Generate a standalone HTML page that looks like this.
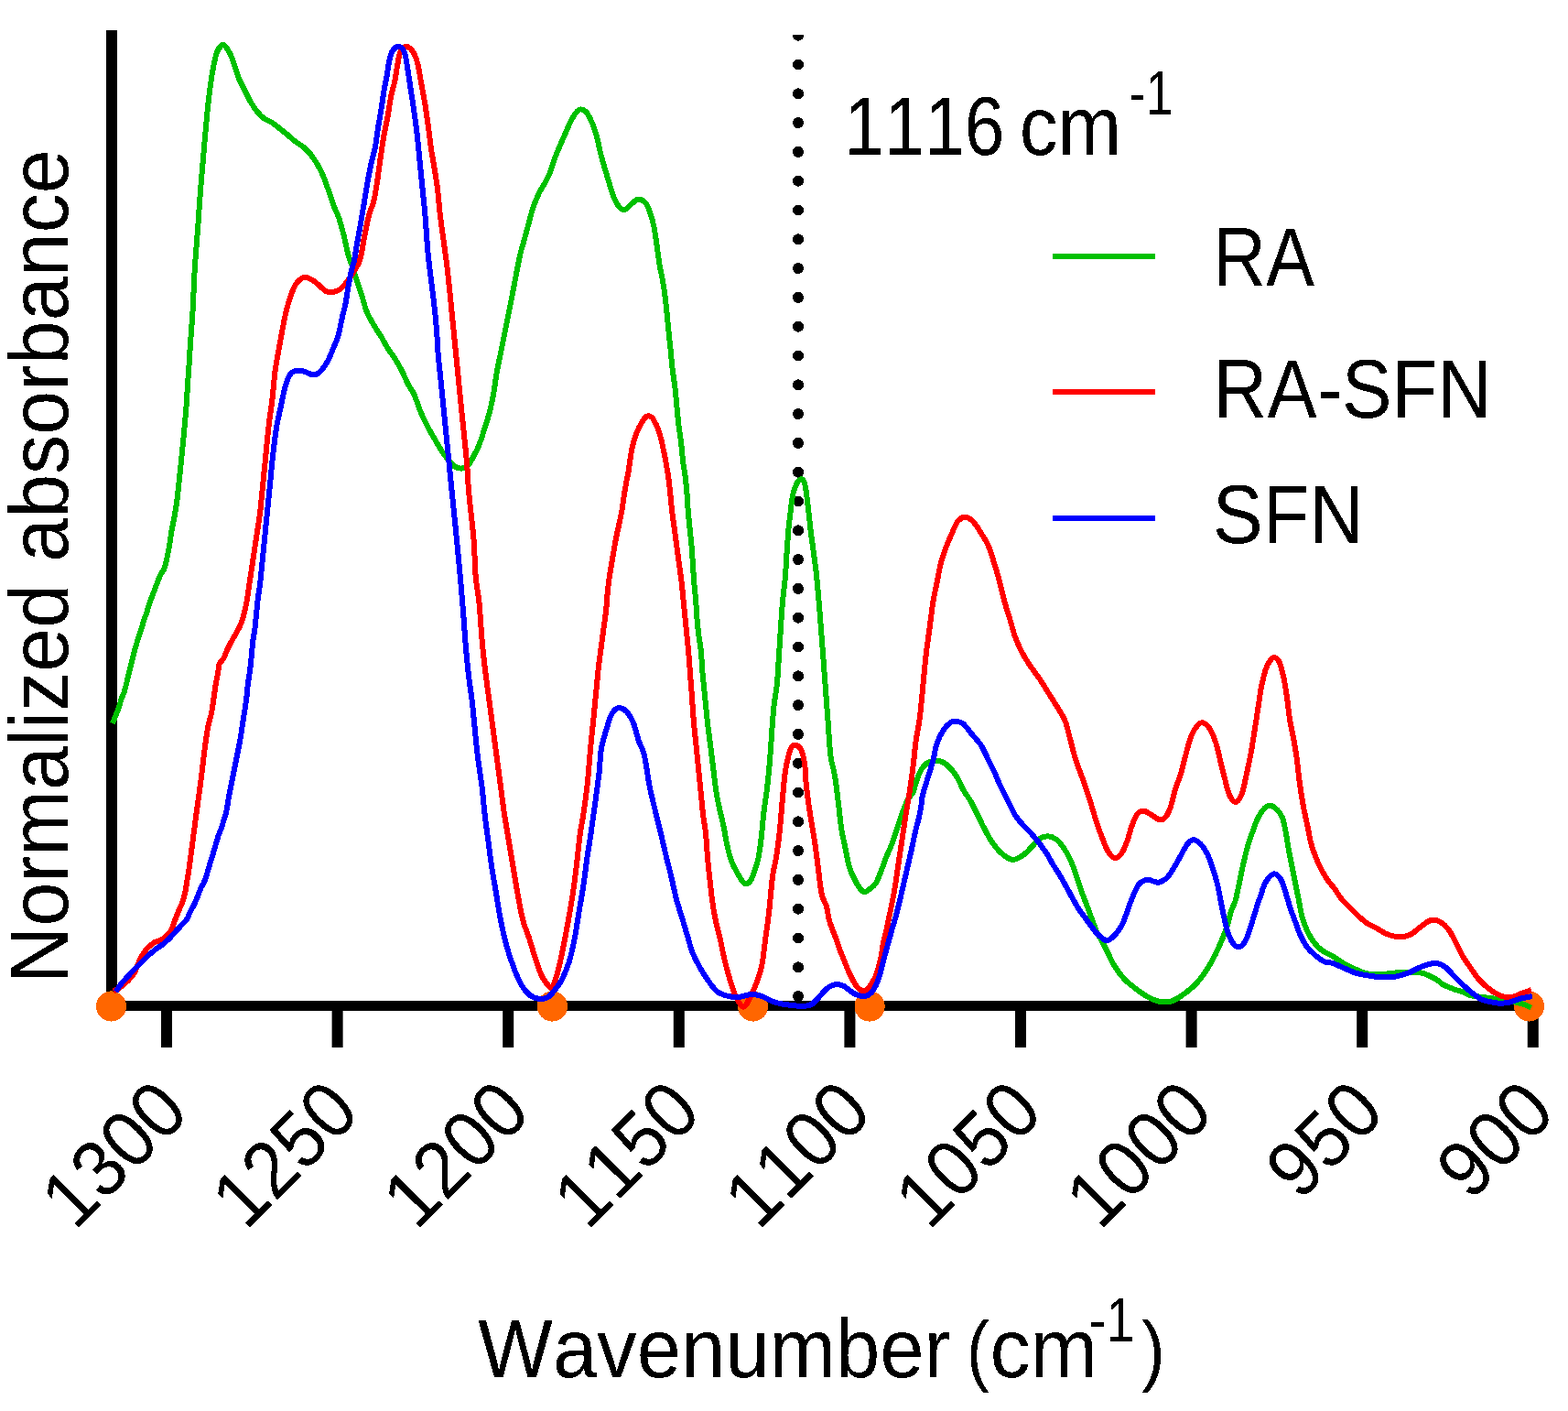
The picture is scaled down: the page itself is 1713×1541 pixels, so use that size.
<!DOCTYPE html>
<html><head><meta charset="utf-8"><title>FTIR spectra</title>
<style>html,body{margin:0;padding:0;background:#fff;}svg{display:block;}text{font-kerning:none;font-feature-settings:"kern" 0;}</style>
</head><body>
<svg xmlns="http://www.w3.org/2000/svg" width="1713" height="1541" viewBox="0 0 1713 1541"><defs><filter id="bin" x="0" y="0" width="1713" height="1541" filterUnits="userSpaceOnUse"><feComponentTransfer><feFuncA type="discrete" tableValues="0 1"/></feComponentTransfer></filter></defs>
<rect x="0" y="0" width="1713" height="1541" fill="#fff"/>
<rect x="116" y="33" width="12" height="1071" fill="#000"/>
<rect x="116" y="1093" width="1564" height="11" fill="#000"/>
<rect x="176.0" y="1093" width="12" height="51" fill="#000"/>
<rect x="362.6" y="1093" width="12" height="51" fill="#000"/>
<rect x="549.2" y="1093" width="12" height="51" fill="#000"/>
<rect x="735.8" y="1093" width="12" height="51" fill="#000"/>
<rect x="922.4" y="1093" width="12" height="51" fill="#000"/>
<rect x="1109.0" y="1093" width="12" height="51" fill="#000"/>
<rect x="1295.6" y="1093" width="12" height="51" fill="#000"/>
<rect x="1482.2" y="1093" width="12" height="51" fill="#000"/>
<rect x="1668.8" y="1093" width="12" height="51" fill="#000"/>
<g filter="url(#bin)"><g font-family="'Liberation Sans', Arial, Helvetica, sans-serif" font-size="87.0" fill="#000"><text x="0" y="0" text-anchor="end" transform="translate(209.0,1217.6) rotate(-45) scale(0.930,1)">1300</text><text x="0" y="0" text-anchor="end" transform="translate(395.6,1217.6) rotate(-45) scale(0.930,1)">1250</text><text x="0" y="0" text-anchor="end" transform="translate(582.2,1217.6) rotate(-45) scale(0.930,1)">1200</text><text x="0" y="0" text-anchor="end" transform="translate(768.8,1217.6) rotate(-45) scale(0.930,1)">1150</text><text x="0" y="0" text-anchor="end" transform="translate(955.4,1217.6) rotate(-45) scale(0.930,1)">1100</text><text x="0" y="0" text-anchor="end" transform="translate(1142.0,1217.6) rotate(-45) scale(0.930,1)">1050</text><text x="0" y="0" text-anchor="end" transform="translate(1328.6,1217.6) rotate(-45) scale(0.930,1)">1000</text><text x="0" y="0" text-anchor="end" transform="translate(1515.2,1217.6) rotate(-45) scale(0.930,1)">950</text><text x="0" y="0" text-anchor="end" transform="translate(1701.8,1217.6) rotate(-45) scale(0.930,1)">900</text></g></g>
<circle cx="121.5" cy="1099" r="16.6" fill="#FF6600" shape-rendering="crispEdges"/>
<circle cx="603.4" cy="1099" r="16.6" fill="#FF6600" shape-rendering="crispEdges"/>
<circle cx="822.6" cy="1099" r="16.6" fill="#FF6600" shape-rendering="crispEdges"/>
<circle cx="950.1" cy="1099" r="16.6" fill="#FF6600" shape-rendering="crispEdges"/>
<circle cx="1670.5" cy="1099" r="16.6" fill="#FF6600" shape-rendering="crispEdges"/>
<clipPath id="dc"><rect x="850" y="38" width="50" height="1070"/></clipPath>
<line x1="872" y1="38.7" x2="872" y2="1090" stroke="#000" stroke-width="12" stroke-linecap="round" stroke-dasharray="0 31.8" clip-path="url(#dc)" shape-rendering="crispEdges"/>
<path d="M123.0,790.0 C124.0,787.5 127.3,779.6 129.0,775.0 C130.7,770.4 131.7,765.9 132.9,762.5 C134.1,759.1 134.8,758.6 136.0,754.7 C137.2,750.8 138.6,744.3 139.9,739.1 C141.2,733.9 142.5,728.8 143.8,723.6 C145.1,718.4 146.4,712.7 147.7,708.0 C149.0,703.3 150.3,699.6 151.6,695.5 C152.9,691.4 154.1,687.5 155.5,683.1 C156.9,678.7 158.6,673.7 160.2,669.0 C161.8,664.3 163.2,659.4 164.8,655.0 C166.4,650.6 167.8,647.0 169.5,642.6 C171.2,638.2 173.3,632.1 175.0,628.5 C176.7,624.9 178.4,623.6 179.6,620.7 C180.8,617.9 181.1,615.5 182.0,611.4 C182.9,607.2 184.2,601.0 185.1,595.8 C186.0,590.6 186.6,585.1 187.4,580.2 C188.2,575.3 189.2,571.6 190.2,566.2 C191.2,560.8 192.2,555.1 193.2,547.8 C194.2,540.5 195.1,530.9 196.0,522.5 C196.9,514.1 197.8,505.6 198.6,497.2 C199.4,488.8 200.3,480.2 201.1,471.8 C201.9,463.4 202.7,454.9 203.3,446.5 C204.0,438.1 204.4,429.6 205.0,421.2 C205.6,412.8 206.1,404.3 206.7,395.9 C207.2,387.5 207.7,379.0 208.3,370.6 C208.9,362.2 209.7,352.4 210.2,345.3 C210.7,338.2 210.9,334.9 211.2,327.9 C211.5,320.9 211.7,312.3 212.2,303.5 C212.7,294.7 213.4,284.6 214.1,275.2 C214.8,265.8 215.6,256.4 216.3,247.0 C217.0,237.6 217.5,228.2 218.2,218.8 C218.9,209.4 219.7,199.9 220.5,190.5 C221.3,181.1 222.1,171.7 222.9,162.3 C223.7,152.9 224.6,142.6 225.4,134.1 C226.2,125.6 226.8,119.0 227.6,111.5 C228.4,104.0 229.6,95.5 230.5,88.9 C231.4,82.3 232.2,77.3 233.3,72.0 C234.4,66.7 235.7,60.4 237.0,56.9 C238.3,53.4 239.7,52.0 241.0,50.8 C242.3,49.5 243.2,47.9 245.0,49.4 C246.8,50.9 249.6,55.2 251.7,59.5 C253.8,63.8 255.9,70.5 257.5,75.0 C259.1,79.5 259.8,82.8 261.4,86.7 C263.0,90.6 265.4,94.5 267.3,98.4 C269.2,102.3 270.8,106.2 273.1,110.1 C275.4,114.0 278.3,118.6 280.9,121.8 C283.5,125.0 286.1,127.6 288.7,129.5 C291.3,131.4 293.9,131.8 296.5,133.4 C299.1,135.0 301.3,137.0 304.2,139.3 C307.1,141.6 311.1,144.7 314.0,147.1 C316.9,149.5 318.9,151.6 321.8,153.9 C324.7,156.2 328.6,158.3 331.5,160.7 C334.4,163.1 336.7,165.2 339.3,168.5 C341.9,171.8 344.8,176.3 347.1,180.2 C349.4,184.1 351.0,187.3 352.9,191.8 C354.8,196.3 356.8,201.9 358.7,207.4 C360.6,212.9 362.7,219.7 364.6,224.9 C366.6,230.1 368.4,232.8 370.4,238.6 C372.3,244.4 374.7,253.5 376.3,260.0 C377.9,266.5 378.8,272.3 380.2,277.5 C381.6,282.7 383.4,286.2 385.0,291.1 C386.6,296.0 388.1,301.2 389.9,306.7 C391.7,312.2 393.9,318.6 395.7,324.2 C397.5,329.8 398.4,334.9 400.5,340.0 C402.6,345.1 405.4,350.0 408.0,354.5 C410.6,359.0 413.3,362.6 416.0,367.0 C418.7,371.4 421.3,376.8 424.0,381.0 C426.7,385.2 429.4,388.3 432.0,392.5 C434.6,396.7 437.2,401.4 439.5,406.0 C441.8,410.6 443.8,415.8 446.0,420.0 C448.2,424.2 450.2,425.8 452.5,431.0 C454.8,436.2 457.4,444.9 460.0,451.0 C462.6,457.1 465.4,462.6 468.0,467.5 C470.6,472.4 473.1,476.3 475.5,480.5 C477.9,484.7 480.2,488.9 482.5,492.5 C484.8,496.1 487.2,499.2 489.5,502.0 C491.8,504.8 493.7,507.4 496.1,509.0 C498.5,510.6 501.3,511.8 503.9,511.6 C506.5,511.4 509.4,510.1 511.7,507.8 C514.0,505.5 515.6,501.6 517.5,498.0 C519.4,494.4 521.3,491.2 523.3,486.3 C525.2,481.4 527.2,475.0 529.2,468.8 C531.2,462.6 533.4,455.6 535.0,449.4 C536.6,443.2 537.6,438.9 538.9,431.8 C540.2,424.7 541.5,413.9 542.8,406.5 C544.1,399.1 545.4,393.6 546.7,387.1 C548.0,380.6 549.3,374.1 550.6,367.6 C551.9,361.1 553.2,354.6 554.5,348.1 C555.8,341.6 556.9,336.3 558.4,328.7 C559.9,321.1 561.8,310.8 563.4,302.5 C565.0,294.2 566.5,285.9 568.0,279.1 C569.5,272.4 571.1,267.7 572.7,262.0 C574.3,256.3 575.8,250.6 577.4,244.9 C579.0,239.2 580.3,233.2 582.1,227.7 C583.9,222.2 586.2,216.5 588.3,212.1 C590.4,207.7 592.4,205.1 594.5,201.2 C596.6,197.3 598.9,193.2 600.7,188.8 C602.5,184.4 603.6,179.7 605.4,174.8 C607.2,169.9 609.6,164.1 611.7,159.2 C613.8,154.3 615.8,149.9 617.9,145.2 C620.0,140.5 622.0,135.1 624.1,131.2 C626.2,127.3 628.5,123.8 630.3,121.8 C632.1,119.8 633.2,119.2 635.0,119.5 C636.8,119.8 639.1,120.7 641.2,123.4 C643.3,126.1 645.7,131.4 647.5,135.8 C649.3,140.2 650.7,144.6 652.1,149.8 C653.5,155.0 654.7,161.8 656.0,167.0 C657.3,172.2 658.5,176.1 659.9,181.0 C661.3,185.9 663.0,191.4 664.6,196.6 C666.2,201.8 667.5,207.4 669.3,212.1 C671.1,216.8 673.4,221.7 675.5,224.6 C677.6,227.5 679.4,229.6 681.7,229.3 C684.0,229.1 686.9,225.1 689.5,223.1 C692.1,221.1 694.7,217.9 697.3,217.6 C699.9,217.3 703.0,219.3 705.1,221.5 C707.2,223.7 708.2,226.4 709.8,230.8 C711.4,235.2 713.2,241.8 714.5,248.0 C715.8,254.2 716.6,261.2 717.6,268.2 C718.6,275.2 719.7,283.9 720.7,290.0 C721.7,296.1 722.8,300.0 723.7,305.0 C724.6,310.0 725.3,314.1 726.1,320.0 C726.9,325.9 727.7,333.6 728.4,340.4 C729.1,347.2 729.7,354.1 730.4,360.9 C731.1,367.7 731.8,374.5 732.5,381.3 C733.2,388.1 733.7,395.0 734.5,401.8 C735.3,408.6 736.5,415.4 737.3,422.2 C738.1,429.0 738.6,435.8 739.3,442.6 C740.0,449.4 740.5,456.3 741.3,463.1 C742.1,469.9 743.3,476.7 744.1,483.5 C744.9,490.3 745.4,497.9 746.1,504.0 C746.9,510.1 747.9,514.1 748.6,520.0 C749.3,525.9 750.0,533.0 750.5,539.5 C751.0,546.0 751.3,552.4 751.8,558.9 C752.3,565.4 753.1,571.9 753.7,578.4 C754.4,584.9 755.2,591.4 755.7,597.9 C756.2,604.4 756.6,610.8 757.0,617.3 C757.4,623.8 757.8,630.3 758.3,636.8 C758.8,643.3 759.7,649.8 760.2,656.3 C760.7,662.8 761.0,669.2 761.5,675.7 C762.0,682.2 762.8,689.5 763.5,695.2 C764.2,700.9 765.0,703.2 765.7,710.0 C766.4,716.8 766.9,727.4 767.6,736.0 C768.4,744.6 769.3,753.2 770.2,761.9 C771.1,770.5 771.8,779.2 772.8,787.9 C773.8,796.5 775.0,805.1 776.1,813.8 C777.2,822.4 778.2,831.1 779.3,839.8 C780.4,848.4 781.4,858.1 782.6,865.7 C783.8,873.3 785.1,878.7 786.5,885.2 C787.9,891.7 789.7,898.3 791.0,904.7 C792.3,911.1 793.0,917.4 794.4,923.4 C795.8,929.4 797.5,936.1 799.3,941.0 C801.1,945.9 803.1,949.0 805.1,952.6 C807.1,956.2 809.4,960.3 811.0,962.4 C812.6,964.5 813.4,965.3 814.9,965.3 C816.4,965.3 818.1,964.8 819.7,962.4 C821.3,960.0 823.1,954.9 824.6,950.7 C826.1,946.5 827.4,942.6 828.5,937.1 C829.6,931.6 830.4,925.7 831.4,917.6 C832.4,909.5 833.2,898.1 834.3,888.4 C835.4,878.7 837.1,868.9 838.2,859.2 C839.3,849.5 840.0,843.9 841.1,830.0 C842.2,816.1 843.7,789.9 845.0,776.0 C846.3,762.1 847.9,756.5 848.9,746.8 C849.9,737.1 850.2,727.3 850.9,717.6 C851.5,707.9 852.1,698.1 852.8,688.4 C853.4,678.7 854.0,668.6 854.8,659.2 C855.6,649.8 856.9,641.2 857.7,632.2 C858.5,623.2 858.9,613.7 859.5,604.9 C860.1,596.1 860.6,587.4 861.3,579.5 C862.0,571.6 863.1,563.3 863.8,557.7 C864.4,552.1 864.7,549.2 865.2,545.9 C865.7,542.6 866.1,540.1 866.8,537.7 C867.4,535.3 868.3,533.2 869.1,531.3 C869.9,529.3 870.5,527.4 871.5,526.0 C872.5,524.6 874.3,523.2 875.4,523.2 C876.5,523.2 877.5,524.5 878.3,526.0 C879.1,527.5 879.5,529.7 880.0,532.2 C880.5,534.8 880.8,537.8 881.3,541.3 C881.8,544.8 882.2,549.3 882.7,553.1 C883.2,556.9 883.5,559.9 884.0,564.0 C884.5,568.1 884.9,573.2 885.4,577.7 C885.9,582.2 886.6,586.8 887.2,591.3 C887.8,595.8 888.4,600.4 889.0,604.9 C889.6,609.4 890.3,614.0 890.9,618.5 C891.5,623.0 891.6,623.8 892.4,632.2 C893.2,640.6 894.6,656.3 895.6,668.9 C896.6,681.5 897.6,694.9 898.6,707.9 C899.6,720.9 900.5,733.8 901.5,746.8 C902.5,759.8 903.4,772.7 904.4,785.7 C905.4,798.7 906.3,815.7 907.3,824.7 C908.3,833.8 909.5,835.0 910.5,840.0 C911.5,845.0 912.3,848.5 913.2,855.0 C914.1,861.5 915.1,870.5 916.1,878.7 C917.1,886.9 917.9,896.5 919.0,904.0 C920.1,911.5 921.4,916.3 922.9,923.4 C924.4,930.5 926.0,940.6 927.8,946.8 C929.6,953.0 931.7,956.5 933.6,960.4 C935.5,964.3 937.6,967.9 939.4,970.2 C941.2,972.5 942.3,974.1 944.3,974.1 C946.2,974.1 949.0,971.8 951.1,970.2 C953.2,968.6 955.0,967.5 957.0,964.3 C959.0,961.0 960.9,955.6 962.8,950.7 C964.7,945.8 966.6,940.0 968.6,935.1 C970.6,930.2 972.5,926.7 974.5,921.5 C976.5,916.3 978.3,909.8 980.3,904.0 C982.2,898.2 984.2,891.7 986.2,886.5 C988.2,881.3 990.1,876.4 992.0,872.8 C993.9,869.2 996.5,867.6 997.8,865.0 C999.1,862.4 998.7,861.2 1000.0,857.3 C1001.3,853.4 1003.5,845.8 1005.8,841.7 C1008.1,837.6 1010.4,834.7 1013.6,832.9 C1016.9,831.1 1021.7,830.5 1025.3,831.0 C1028.9,831.5 1031.8,833.0 1035.0,835.8 C1038.2,838.5 1041.9,843.0 1044.8,847.5 C1047.7,852.0 1050.0,858.6 1052.6,863.1 C1055.2,867.6 1057.7,870.3 1060.3,874.8 C1062.9,879.3 1065.5,885.1 1068.1,890.3 C1070.7,895.5 1073.3,901.0 1075.9,905.9 C1078.5,910.8 1080.8,915.3 1083.7,919.5 C1086.6,923.7 1089.7,928.0 1093.4,931.2 C1097.1,934.5 1101.9,938.7 1106.1,939.0 C1110.3,939.3 1115.0,935.8 1118.7,933.2 C1122.4,930.6 1125.6,926.3 1128.5,923.4 C1131.4,920.5 1133.5,917.4 1136.3,915.7 C1139.0,914.0 1142.1,913.1 1145.0,913.3 C1147.9,913.4 1151.0,914.6 1153.8,916.6 C1156.6,918.6 1159.0,921.7 1161.6,925.4 C1164.2,929.1 1167.1,934.1 1169.4,939.0 C1171.7,943.9 1173.3,949.1 1175.2,954.6 C1177.1,960.1 1179.0,966.6 1181.0,972.1 C1183.0,977.6 1185.0,982.5 1186.9,987.7 C1188.9,992.9 1190.8,998.1 1192.7,1003.3 C1194.7,1008.5 1196.6,1014.5 1198.6,1018.8 C1200.6,1023.1 1202.4,1025.1 1204.5,1029.0 C1206.6,1032.9 1208.9,1037.8 1211.0,1042.0 C1213.1,1046.2 1214.4,1049.9 1217.2,1054.4 C1220.0,1058.9 1224.1,1064.8 1228.1,1069.0 C1232.0,1073.2 1237.0,1076.8 1240.9,1079.9 C1244.9,1083.0 1248.8,1085.6 1251.8,1087.5 C1254.8,1089.4 1256.6,1090.2 1259.0,1091.2 C1261.4,1092.2 1263.7,1093.1 1266.0,1093.6 C1268.3,1094.1 1270.7,1094.4 1273.0,1094.4 C1275.3,1094.4 1277.5,1094.2 1280.0,1093.4 C1282.5,1092.6 1284.6,1091.5 1288.1,1089.3 C1291.6,1087.0 1297.2,1083.0 1300.8,1079.9 C1304.4,1076.8 1306.9,1074.4 1309.9,1070.8 C1312.9,1067.2 1316.0,1062.9 1319.0,1058.1 C1322.0,1053.2 1325.4,1047.2 1328.1,1041.7 C1330.8,1036.2 1333.3,1030.5 1335.4,1025.3 C1337.5,1020.1 1339.2,1015.8 1340.8,1010.8 C1342.4,1005.8 1343.3,1000.0 1344.8,995.5 C1346.3,991.0 1348.1,988.7 1349.6,983.8 C1351.0,978.9 1352.0,973.1 1353.5,966.3 C1355.0,959.5 1356.8,950.0 1358.4,942.9 C1360.0,935.8 1361.8,928.6 1363.3,923.4 C1364.8,918.2 1365.6,916.3 1367.2,911.8 C1368.8,907.3 1370.9,900.8 1373.0,896.2 C1375.1,891.7 1377.4,887.3 1379.8,884.5 C1382.2,881.7 1384.6,879.6 1387.2,879.6 C1389.8,879.6 1393.1,882.3 1395.4,884.5 C1397.7,886.7 1399.3,888.9 1400.8,892.7 C1402.3,896.5 1403.2,901.2 1404.4,907.2 C1405.6,913.2 1406.8,922.3 1408.0,929.0 C1409.2,935.7 1410.5,941.1 1411.7,947.2 C1412.9,953.3 1414.1,959.4 1415.3,965.4 C1416.5,971.4 1417.8,977.5 1419.0,983.5 C1420.2,989.5 1421.1,996.2 1422.6,1001.7 C1424.1,1007.2 1425.9,1011.8 1428.0,1016.3 C1430.1,1020.8 1432.6,1025.4 1435.3,1029.0 C1438.0,1032.6 1441.0,1035.6 1444.4,1038.1 C1447.8,1040.6 1451.9,1041.8 1455.7,1044.1 C1459.5,1046.4 1463.5,1049.6 1467.4,1051.9 C1471.3,1054.2 1474.5,1055.8 1479.1,1057.8 C1483.6,1059.8 1488.9,1062.6 1494.7,1063.6 C1500.5,1064.6 1507.6,1063.9 1514.1,1063.6 C1520.6,1063.3 1527.1,1061.8 1533.6,1061.6 C1540.1,1061.4 1547.3,1061.3 1553.1,1062.6 C1558.9,1063.9 1564.7,1067.3 1568.6,1069.4 C1572.5,1071.5 1573.2,1073.5 1576.4,1075.3 C1579.7,1077.1 1584.2,1078.8 1588.1,1080.2 C1592.0,1081.7 1596.9,1082.9 1599.8,1084.0 C1602.7,1085.1 1602.5,1086.2 1605.7,1087.0 C1609.0,1087.8 1614.4,1088.2 1619.3,1088.9 C1624.2,1089.6 1629.4,1090.1 1634.9,1090.9 C1640.4,1091.7 1647.5,1092.8 1652.4,1093.8 C1657.3,1094.8 1660.7,1095.6 1664.1,1096.7 C1667.5,1097.8 1671.4,1099.9 1672.9,1100.6" fill="none" stroke="#00C000" stroke-width="6" stroke-linejoin="round" stroke-linecap="butt" shape-rendering="crispEdges"/>
<path d="M124.0,1082.5 C125.0,1082.0 127.5,1081.1 129.7,1079.6 C131.8,1078.1 134.7,1075.7 136.9,1073.7 C139.1,1071.8 141.0,1070.0 142.7,1067.9 C144.4,1065.9 146.0,1063.8 147.3,1061.4 C148.6,1059.0 149.3,1056.3 150.5,1053.6 C151.7,1050.9 153.0,1047.8 154.4,1045.2 C155.8,1042.6 157.3,1040.1 158.9,1038.0 C160.5,1035.9 162.4,1034.3 164.1,1032.8 C165.8,1031.3 167.2,1030.0 169.3,1028.9 C171.4,1027.8 174.4,1027.4 176.5,1026.3 C178.6,1025.2 180.0,1023.9 181.6,1022.4 C183.2,1020.9 185.0,1019.1 186.2,1017.3 C187.4,1015.5 187.9,1013.6 188.8,1011.4 C189.7,1009.2 190.5,1006.6 191.4,1004.3 C192.3,1002.0 193.1,1000.0 194.0,997.8 C194.9,995.6 195.7,993.4 196.6,991.3 C197.5,989.2 198.3,988.1 199.3,985.1 C200.3,982.1 201.7,977.4 202.5,973.5 C203.3,969.6 203.8,965.7 204.4,961.8 C205.1,957.9 205.8,954.0 206.4,950.1 C207.0,946.2 207.4,942.3 207.9,938.4 C208.4,934.5 209.0,930.6 209.5,926.7 C210.0,922.8 210.5,918.9 211.0,915.0 C211.5,911.1 212.1,907.3 212.6,903.4 C213.1,899.5 213.6,895.6 214.1,891.7 C214.6,887.8 214.7,887.2 215.7,880.0 C216.7,872.8 218.7,858.5 220.0,848.4 C221.3,838.3 222.3,828.3 223.5,819.2 C224.7,810.1 226.0,800.5 227.3,793.6 C228.6,786.8 230.2,783.3 231.2,778.1 C232.2,772.9 232.7,767.7 233.5,762.5 C234.3,757.3 235.0,751.6 235.8,746.9 C236.6,742.2 237.5,738.1 238.2,734.5 C238.8,730.9 238.7,727.7 239.7,725.1 C240.7,722.5 243.0,721.5 244.4,718.9 C245.8,716.3 246.9,712.6 248.3,709.5 C249.7,706.4 251.3,703.3 253.0,700.2 C254.7,697.1 256.7,693.9 258.4,690.8 C260.1,687.7 261.7,685.1 263.1,681.5 C264.5,677.9 265.8,673.7 267.0,669.0 C268.2,664.3 269.2,658.7 270.1,653.5 C271.0,648.3 271.6,643.1 272.4,637.9 C273.2,632.7 274.0,627.5 274.8,622.3 C275.6,617.1 276.3,611.9 277.1,606.7 C277.9,601.5 278.6,596.4 279.4,591.2 C280.2,586.0 281.0,580.8 281.8,575.6 C282.6,570.4 283.4,565.5 284.1,560.0 C284.8,554.5 284.9,552.1 285.8,542.8 C286.7,533.4 288.4,516.9 289.7,503.9 C291.0,490.9 292.3,476.3 293.6,464.9 C294.9,453.5 296.4,445.4 297.5,435.7 C298.6,426.0 299.3,415.2 300.4,406.5 C301.5,397.8 303.0,390.6 304.3,383.2 C305.6,375.8 306.9,368.6 308.2,361.8 C309.5,355.0 310.6,348.5 312.1,342.3 C313.6,336.1 315.2,330.0 317.0,324.8 C318.8,319.6 320.4,314.7 322.8,311.1 C325.2,307.5 328.7,304.0 331.6,303.0 C334.5,302.0 337.6,303.9 340.3,305.3 C343.1,306.7 345.5,309.0 348.1,311.1 C350.7,313.2 353.3,316.7 355.9,318.0 C358.5,319.3 361.1,319.2 363.7,318.9 C366.3,318.6 368.9,317.9 371.5,316.0 C374.1,314.1 376.7,310.7 379.3,307.3 C381.9,303.9 384.8,299.6 387.1,295.6 C389.5,291.6 391.5,289.6 393.4,283.3 C395.2,277.0 396.6,266.1 398.2,258.0 C399.8,249.9 401.5,240.9 403.1,234.7 C404.7,228.5 406.5,226.8 408.0,221.0 C409.5,215.2 410.6,207.7 411.9,199.6 C413.2,191.5 414.4,181.2 415.7,172.4 C417.0,163.7 418.3,154.6 419.6,147.1 C420.9,139.6 422.2,134.8 423.5,127.6 C424.8,120.4 426.1,110.7 427.4,104.2 C428.7,97.7 430.2,94.2 431.3,88.7 C432.4,83.2 433.2,76.3 434.2,71.1 C435.2,65.9 435.6,60.9 437.2,57.5 C438.8,54.1 441.6,51.0 444.0,51.0 C446.4,51.0 449.7,54.1 451.8,57.5 C453.9,60.9 455.2,65.2 456.6,71.1 C458.1,76.9 459.2,85.4 460.5,92.6 C461.8,99.8 463.1,105.9 464.4,114.0 C465.7,122.1 467.2,133.1 468.3,141.2 C469.4,149.3 469.9,155.0 471.0,162.4 C472.1,169.8 473.8,178.6 474.9,185.7 C476.0,192.8 476.9,197.1 477.9,205.2 C478.9,213.3 479.7,224.7 480.8,234.4 C481.9,244.1 483.4,253.9 484.7,263.6 C486.0,273.3 487.3,281.7 488.6,292.8 C489.9,303.9 491.4,318.9 492.5,330.0 C493.6,341.1 494.4,349.5 495.4,359.2 C496.4,368.9 497.3,378.7 498.3,388.4 C499.3,398.1 500.2,407.9 501.2,417.6 C502.2,427.3 503.1,437.1 504.1,446.8 C505.1,456.5 506.1,466.3 507.1,476.0 C508.1,485.7 509.2,495.5 510.0,505.2 C510.8,514.9 511.1,524.7 511.9,534.4 C512.7,544.1 513.9,553.9 514.9,563.6 C515.9,573.3 517.0,581.7 517.8,592.8 C518.6,603.9 518.7,618.9 519.7,630.0 C520.7,641.1 522.5,647.9 523.6,659.2 C524.7,670.6 525.5,686.8 526.5,698.1 C527.5,709.5 528.4,717.6 529.5,727.3 C530.6,737.0 532.0,746.8 533.3,756.5 C534.6,766.2 535.9,776.0 537.2,785.7 C538.5,795.4 539.8,805.2 541.1,814.9 C542.4,824.6 544.0,836.7 545.0,844.1 C546.0,851.5 546.0,851.8 547.0,859.2 C548.0,866.6 549.4,878.7 550.9,888.4 C552.4,898.1 554.1,907.9 555.7,917.6 C557.3,927.3 559.0,937.1 560.6,946.8 C562.2,956.5 563.7,966.3 565.5,976.0 C567.3,985.7 569.2,997.1 571.3,1005.2 C573.4,1013.3 576.0,1018.2 578.1,1024.7 C580.2,1031.2 581.9,1037.6 584.0,1044.1 C586.1,1050.6 588.7,1058.7 590.8,1063.6 C592.9,1068.5 594.6,1070.7 596.6,1073.3 C598.6,1075.9 600.9,1079.5 602.5,1079.2 C604.1,1078.9 604.8,1075.6 606.3,1071.4 C607.8,1067.2 609.6,1060.7 611.2,1053.9 C612.8,1047.1 614.5,1038.6 616.1,1030.5 C617.7,1022.4 619.3,1014.3 620.9,1005.2 C622.5,996.1 624.3,985.7 625.8,976.0 C627.3,966.3 628.4,957.5 629.7,946.8 C631.0,936.1 632.3,921.5 633.6,911.8 C634.9,902.1 636.2,897.2 637.5,888.4 C638.8,879.6 640.4,867.7 641.4,859.2 C642.4,850.7 642.8,843.5 643.4,837.3 C644.0,831.0 644.2,827.6 644.7,821.7 C645.2,815.9 646.0,808.7 646.6,802.2 C647.2,795.7 648.0,789.3 648.6,782.8 C649.2,776.3 649.9,769.8 650.5,763.3 C651.1,756.8 651.8,750.3 652.4,743.8 C653.0,737.3 653.6,730.9 654.4,724.4 C655.2,717.9 656.1,711.4 657.0,704.9 C657.9,698.4 658.7,691.9 659.6,685.4 C660.5,678.9 661.6,671.8 662.2,666.0 C662.8,660.2 662.9,655.8 663.4,650.6 C663.9,645.4 664.4,640.2 665.1,635.0 C665.8,629.8 666.6,624.6 667.5,619.4 C668.4,614.2 669.3,609.0 670.2,603.8 C671.1,598.6 671.9,593.5 672.9,588.3 C673.9,583.1 675.2,577.9 676.3,572.7 C677.4,567.5 678.6,562.3 679.5,557.1 C680.4,551.9 680.9,546.5 681.7,541.5 C682.5,536.5 683.3,531.8 684.1,527.3 C684.9,522.8 686.0,518.7 686.7,514.4 C687.4,510.1 687.8,505.7 688.5,501.4 C689.2,497.1 689.9,492.3 690.7,488.4 C691.6,484.5 692.6,481.0 693.6,478.0 C694.6,475.0 695.5,472.7 696.6,470.2 C697.7,467.7 699.0,465.2 700.2,463.1 C701.4,461.0 702.5,458.8 703.7,457.3 C704.9,455.8 706.1,454.5 707.6,454.3 C709.1,454.1 711.2,455.0 712.5,456.0 C713.8,457.0 714.2,458.8 715.1,460.5 C716.0,462.2 717.1,464.0 718.0,466.3 C718.9,468.6 719.8,471.5 720.6,474.1 C721.4,476.7 722.2,479.0 722.9,481.9 C723.6,484.8 724.1,488.4 724.8,491.6 C725.5,494.9 726.2,497.6 726.9,501.4 C727.6,505.2 728.5,511.3 729.0,514.4 C729.5,517.5 729.6,515.8 730.1,520.0 C730.6,524.2 731.6,533.0 732.3,539.5 C733.0,546.0 733.5,552.4 734.3,558.9 C735.1,565.4 736.0,571.9 736.9,578.4 C737.8,584.9 738.6,591.4 739.5,597.9 C740.4,604.4 741.2,610.8 742.1,617.3 C743.0,623.8 744.0,630.3 744.7,636.8 C745.5,643.3 746.0,649.8 746.6,656.3 C747.2,662.8 748.0,669.2 748.6,675.7 C749.2,682.2 749.9,689.2 750.5,695.2 C751.1,701.2 751.6,705.2 752.2,712.0 C752.8,718.8 753.4,727.7 754.0,736.0 C754.6,744.3 755.4,753.2 756.0,761.9 C756.6,770.5 757.1,779.2 757.9,787.9 C758.6,796.5 759.6,805.1 760.5,813.8 C761.4,822.4 762.2,831.1 763.1,839.8 C764.0,848.4 764.8,857.1 765.7,865.7 C766.6,874.4 767.4,884.6 768.3,891.7 C769.2,898.9 770.2,902.2 770.9,908.6 C771.6,915.0 772.0,923.6 772.5,930.0 C773.0,936.4 773.1,938.2 774.0,946.8 C774.9,955.4 776.6,972.1 777.9,981.8 C779.2,991.5 780.3,998.1 781.8,1005.2 C783.2,1012.4 785.0,1017.6 786.6,1024.7 C788.2,1031.8 789.7,1040.5 791.5,1048.0 C793.3,1055.5 795.3,1062.9 797.3,1069.4 C799.2,1075.9 800.8,1082.0 803.2,1087.0 C805.6,1092.0 809.3,1098.9 811.9,1099.6 C814.5,1100.2 816.3,1095.3 818.7,1090.9 C821.1,1086.5 824.2,1079.5 826.5,1073.3 C828.8,1067.1 830.8,1062.0 832.4,1053.9 C834.0,1045.8 835.0,1034.4 836.3,1024.7 C837.6,1015.0 838.9,1006.9 840.2,995.5 C841.5,984.1 842.8,966.2 844.1,956.5 C845.4,946.8 846.6,945.2 847.9,937.1 C849.2,929.0 850.6,918.5 851.8,907.9 C852.9,897.3 853.8,883.9 854.8,873.3 C855.8,862.7 856.6,852.2 857.7,844.1 C858.8,836.0 860.3,829.6 861.6,824.7 C862.9,819.8 864.0,816.7 865.5,814.9 C867.0,813.1 868.7,813.4 870.3,814.0 C871.9,814.6 873.7,815.4 875.2,818.8 C876.7,822.2 878.1,827.7 879.1,834.4 C880.1,841.1 880.0,850.2 881.0,859.2 C882.0,868.2 883.4,878.7 884.9,888.4 C886.4,898.1 888.3,907.9 889.8,917.6 C891.3,927.3 892.4,937.1 893.7,946.8 C895.0,956.5 896.1,968.8 897.6,976.0 C899.1,983.2 901.5,985.3 902.9,990.0 C904.2,994.7 904.6,1000.1 905.7,1004.3 C906.8,1008.5 908.0,1011.4 909.3,1015.0 C910.6,1018.6 912.3,1022.1 913.6,1025.7 C914.9,1029.3 915.8,1032.8 917.1,1036.4 C918.4,1040.0 920.0,1043.5 921.4,1047.1 C922.8,1050.7 924.2,1054.2 925.7,1057.8 C927.2,1061.4 929.0,1065.3 930.7,1068.5 C932.4,1071.7 934.0,1074.9 935.7,1077.1 C937.4,1079.2 939.3,1080.5 940.7,1081.4 C942.1,1082.3 942.9,1082.8 944.3,1082.3 C945.7,1081.8 947.7,1080.2 949.2,1078.5 C950.7,1076.8 952.2,1074.3 953.5,1072.1 C954.8,1069.8 956.0,1067.7 957.1,1065.0 C958.2,1062.3 959.0,1059.3 960.0,1055.7 C961.0,1052.1 962.0,1047.8 962.8,1043.5 C963.6,1039.2 964.0,1034.6 965.0,1029.9 C966.0,1025.2 967.4,1020.4 968.5,1015.6 C969.6,1010.8 970.4,1006.0 971.4,1001.3 C972.4,996.5 973.3,991.9 974.3,987.1 C975.2,982.4 976.3,977.6 977.1,972.8 C977.9,968.0 978.6,963.3 979.3,958.5 C980.0,953.7 980.7,949.0 981.4,944.2 C982.1,939.5 982.8,934.8 983.5,930.0 C984.2,925.2 985.0,920.5 985.7,915.7 C986.4,910.9 987.1,906.2 987.8,901.4 C988.5,896.6 989.0,893.4 990.0,887.1 C991.0,880.8 992.6,872.3 993.9,863.6 C995.2,854.9 996.7,843.9 997.8,835.0 C998.9,826.1 999.3,818.6 1000.5,810.0 C1001.7,801.4 1003.5,794.1 1004.9,783.1 C1006.3,772.1 1007.7,755.5 1008.8,744.1 C1009.9,732.7 1010.6,724.6 1011.7,714.9 C1012.8,705.2 1014.3,695.4 1015.6,685.7 C1016.9,676.0 1018.2,664.6 1019.5,656.5 C1020.8,648.4 1021.9,644.2 1023.4,637.1 C1024.8,630.0 1026.4,620.5 1028.2,613.7 C1030.0,606.9 1032.1,601.4 1034.1,596.2 C1036.0,591.0 1037.8,587.2 1039.9,582.6 C1042.0,578.0 1044.1,571.9 1046.7,568.9 C1049.3,565.9 1052.6,564.4 1055.5,564.7 C1058.4,565.0 1061.5,567.9 1064.2,570.9 C1067.0,573.9 1069.4,578.4 1072.0,582.6 C1074.6,586.8 1077.5,591.0 1079.8,596.2 C1082.1,601.4 1083.8,607.5 1085.7,613.7 C1087.7,619.9 1089.6,626.1 1091.5,633.2 C1093.4,640.3 1095.3,649.4 1097.3,656.5 C1099.2,663.6 1101.2,669.5 1103.2,676.0 C1105.2,682.5 1106.7,689.3 1109.0,695.5 C1111.3,701.7 1113.9,707.5 1116.8,713.0 C1119.7,718.5 1123.2,723.7 1126.5,728.6 C1129.8,733.5 1133.0,737.3 1136.3,742.2 C1139.5,747.1 1142.8,752.6 1146.0,757.8 C1149.2,763.0 1152.8,768.4 1155.7,773.3 C1158.6,778.2 1161.2,781.1 1163.5,787.0 C1165.8,792.9 1167.5,801.2 1169.4,808.4 C1171.4,815.6 1173.3,823.8 1175.2,830.0 C1177.1,836.2 1179.0,840.1 1181.0,845.6 C1183.0,851.1 1185.0,857.3 1186.9,863.1 C1188.9,868.9 1190.8,874.4 1192.7,880.6 C1194.7,886.8 1196.6,894.2 1198.6,900.1 C1200.5,906.0 1202.5,910.8 1204.4,915.7 C1206.3,920.6 1207.9,925.7 1210.2,929.3 C1212.5,932.9 1215.4,936.8 1218.0,937.1 C1220.6,937.4 1223.5,934.5 1225.8,931.2 C1228.1,928.0 1229.9,922.5 1231.7,917.6 C1233.5,912.7 1234.7,906.7 1236.5,902.0 C1238.3,897.3 1240.2,892.1 1242.3,889.4 C1244.4,886.6 1246.8,885.5 1249.2,885.5 C1251.6,885.5 1254.0,887.8 1256.9,889.4 C1259.8,891.0 1264.1,894.6 1266.7,895.2 C1269.3,895.9 1270.5,895.4 1272.5,893.3 C1274.5,891.2 1276.5,888.0 1278.4,882.6 C1280.4,877.2 1282.3,867.3 1284.2,861.1 C1286.1,854.9 1288.4,850.8 1290.0,845.6 C1291.6,840.4 1292.2,836.3 1293.9,830.0 C1295.6,823.7 1298.0,813.8 1300.0,808.0 C1302.0,802.2 1303.6,798.6 1305.8,795.5 C1308.0,792.4 1310.6,789.2 1313.2,789.2 C1315.8,789.2 1318.9,791.9 1321.4,795.5 C1323.9,799.1 1326.2,805.2 1328.2,811.0 C1330.2,816.8 1331.5,824.0 1333.1,830.5 C1334.7,837.0 1336.4,843.8 1338.0,850.0 C1339.6,856.2 1340.9,863.2 1342.8,867.5 C1344.7,871.8 1347.3,876.0 1349.6,876.0 C1351.9,876.0 1354.5,872.2 1356.5,867.5 C1358.5,862.8 1359.7,855.1 1361.3,848.0 C1362.9,840.9 1364.7,832.5 1366.2,824.7 C1367.7,816.9 1368.8,809.4 1370.1,801.3 C1371.4,793.2 1372.7,784.4 1374.0,776.0 C1375.3,767.6 1376.5,758.2 1377.9,750.7 C1379.4,743.2 1381.1,736.1 1382.7,731.2 C1384.3,726.3 1386.0,723.7 1387.6,721.5 C1389.2,719.3 1390.5,717.8 1392.1,718.0 C1393.7,718.2 1395.6,719.0 1397.3,722.5 C1399.0,726.0 1400.7,732.4 1402.2,739.0 C1403.7,745.6 1405.0,754.6 1406.1,762.4 C1407.2,770.2 1407.9,778.6 1409.0,785.7 C1410.1,792.8 1411.6,798.0 1412.9,805.2 C1414.2,812.4 1415.7,820.9 1416.8,829.0 C1417.9,837.1 1418.6,845.5 1419.7,853.9 C1420.8,862.3 1422.1,871.1 1423.6,879.2 C1425.1,887.3 1427.1,895.7 1428.5,902.5 C1429.9,909.3 1430.7,914.9 1432.0,920.0 C1433.3,925.1 1434.6,928.7 1436.3,933.2 C1438.0,937.7 1439.8,942.3 1442.1,946.8 C1444.4,951.3 1447.3,956.5 1449.9,960.4 C1452.5,964.3 1455.1,966.6 1457.7,970.2 C1460.3,973.8 1462.6,978.2 1465.5,981.8 C1468.4,985.4 1472.0,988.4 1475.2,991.6 C1478.4,994.9 1481.7,998.4 1484.9,1001.3 C1488.2,1004.2 1491.5,1007.0 1494.7,1009.1 C1498.0,1011.2 1501.2,1012.2 1504.4,1014.0 C1507.6,1015.8 1510.8,1018.3 1514.1,1019.8 C1517.3,1021.2 1521.0,1022.1 1523.9,1022.7 C1526.8,1023.3 1528.8,1023.8 1531.7,1023.4 C1534.6,1023.0 1538.3,1022.0 1541.5,1020.3 C1544.7,1018.6 1548.2,1015.2 1551.1,1013.0 C1554.0,1010.8 1556.5,1008.5 1558.9,1007.1 C1561.4,1005.7 1563.2,1004.4 1565.8,1004.5 C1568.4,1004.6 1571.8,1005.9 1574.5,1007.6 C1577.2,1009.3 1580.0,1012.0 1582.3,1014.9 C1584.6,1017.8 1586.1,1021.1 1588.1,1024.7 C1590.0,1028.3 1592.4,1033.1 1594.0,1036.3 C1595.6,1039.5 1596.0,1040.8 1597.9,1044.1 C1599.9,1047.3 1602.8,1051.6 1605.7,1055.8 C1608.6,1060.0 1611.9,1065.3 1615.5,1069.4 C1619.1,1073.5 1622.9,1077.1 1627.1,1080.2 C1631.3,1083.3 1636.6,1086.5 1640.8,1087.9 C1645.0,1089.4 1648.8,1089.4 1652.4,1088.9 C1656.0,1088.4 1658.8,1086.3 1662.2,1085.0 C1665.6,1083.7 1671.1,1081.8 1672.9,1081.1" fill="none" stroke="#FF0000" stroke-width="6" stroke-linejoin="round" stroke-linecap="butt" shape-rendering="crispEdges"/>
<path d="M126.5,1083.0 C127.6,1081.5 130.8,1076.4 133.0,1073.7 C135.2,1071.0 137.3,1069.0 139.5,1066.6 C141.7,1064.2 143.8,1061.7 146.0,1059.4 C148.2,1057.1 150.2,1055.1 152.4,1052.9 C154.6,1050.8 156.7,1048.5 158.9,1046.5 C161.1,1044.5 163.2,1042.4 165.4,1040.6 C167.6,1038.8 169.7,1037.0 171.9,1035.4 C174.1,1033.8 176.2,1032.6 178.4,1030.9 C180.6,1029.2 182.7,1027.2 184.9,1025.0 C187.1,1022.8 189.2,1020.3 191.4,1017.9 C193.6,1015.5 195.7,1013.2 197.9,1010.8 C200.1,1008.4 202.9,1005.8 204.4,1003.6 C205.9,1001.4 206.0,999.5 207.0,997.5 C208.0,995.5 209.1,993.5 210.2,991.4 C211.3,989.3 212.3,987.4 213.4,985.1 C214.5,982.8 215.5,980.0 216.5,977.4 C217.5,974.8 218.6,971.8 219.6,969.6 C220.6,967.4 221.8,966.1 222.7,964.1 C223.6,962.1 224.2,960.2 225.0,957.9 C225.8,955.6 226.6,952.7 227.4,950.1 C228.2,947.5 228.9,944.9 229.7,942.3 C230.5,939.7 231.3,937.1 232.1,934.5 C232.9,931.9 233.6,929.3 234.4,926.7 C235.2,924.1 235.9,921.5 236.7,918.9 C237.5,916.3 238.2,913.8 239.1,911.2 C240.0,908.6 241.3,906.0 242.2,903.4 C243.1,900.8 243.7,898.2 244.5,895.6 C245.3,893.0 246.2,890.4 246.9,887.8 C247.6,885.2 247.8,883.3 248.4,880.0 C249.0,876.7 249.4,873.2 250.4,867.9 C251.4,862.6 253.0,854.9 254.3,848.4 C255.6,841.9 256.9,835.4 258.2,828.9 C259.5,822.4 261.0,815.4 262.1,809.5 C263.2,803.6 263.8,798.8 264.6,793.6 C265.4,788.4 266.2,783.3 267.0,778.1 C267.8,772.9 268.7,767.7 269.3,762.5 C269.9,757.3 270.2,752.1 270.9,746.9 C271.5,741.7 272.5,736.5 273.2,731.3 C273.9,726.1 274.3,721.0 274.8,715.8 C275.3,710.6 275.7,705.4 276.3,700.2 C276.9,695.0 278.1,689.8 278.7,684.6 C279.3,679.4 279.7,674.2 280.2,669.0 C280.7,663.8 281.1,658.7 281.8,653.5 C282.5,648.3 283.5,643.1 284.1,637.9 C284.8,632.7 285.2,627.5 285.7,622.3 C286.2,617.1 286.7,611.9 287.2,606.7 C287.7,601.5 288.3,596.4 288.8,591.2 C289.3,586.0 289.8,580.8 290.3,575.6 C290.8,570.4 291.2,567.1 291.9,560.0 C292.6,552.9 293.5,544.1 294.6,533.1 C295.7,522.1 297.2,505.5 298.5,494.1 C299.8,482.7 300.9,473.6 302.4,464.9 C303.9,456.1 305.9,448.4 307.3,441.6 C308.8,434.8 309.7,429.2 311.1,424.0 C312.6,418.8 314.4,413.5 316.0,410.4 C317.6,407.3 318.9,406.6 320.9,405.6 C322.8,404.6 325.4,404.5 327.7,404.6 C330.0,404.8 332.1,405.7 334.5,406.5 C336.9,407.3 339.9,409.5 342.3,409.5 C344.7,409.5 347.2,408.0 349.1,406.5 C351.1,405.0 352.4,403.0 354.0,400.7 C355.6,398.4 357.2,396.1 358.8,392.9 C360.4,389.6 362.1,385.1 363.7,381.2 C365.3,377.3 367.3,373.4 368.6,369.5 C369.9,365.6 370.5,362.1 371.5,357.9 C372.5,353.7 373.4,348.4 374.4,344.2 C375.4,340.0 376.3,337.8 377.3,332.6 C378.3,327.4 379.4,319.1 380.5,313.0 C381.6,306.9 382.7,300.9 383.8,296.0 C384.9,291.1 386.0,289.2 387.1,283.9 C388.2,278.5 389.2,270.8 390.4,263.9 C391.6,257.0 393.0,250.0 394.3,242.5 C395.6,235.0 396.9,226.9 398.2,219.1 C399.5,211.3 400.8,202.8 402.1,195.7 C403.4,188.6 404.7,182.1 406.0,176.3 C407.3,170.5 408.8,166.5 409.9,160.7 C411.0,154.8 411.7,148.3 412.8,141.2 C413.9,134.1 415.6,125.0 416.7,117.9 C417.8,110.8 418.6,104.2 419.6,98.4 C420.6,92.6 421.6,88.3 422.6,82.8 C423.6,77.3 424.4,70.0 425.5,65.3 C426.6,60.6 427.6,57.0 429.4,54.6 C431.2,52.2 434.1,50.5 436.2,51.0 C438.3,51.5 440.4,52.9 442.0,57.5 C443.6,62.1 444.8,72.1 445.9,78.9 C447.0,85.7 447.8,91.9 448.8,98.4 C449.8,104.9 450.7,109.8 451.8,117.9 C452.9,126.0 454.6,137.4 455.7,147.1 C456.8,156.8 457.6,166.6 458.6,176.3 C459.6,186.0 460.5,195.8 461.5,205.5 C462.5,215.2 463.4,223.3 464.4,234.7 C465.4,246.0 466.3,262.4 467.3,273.6 C468.3,284.8 469.4,292.6 470.5,302.0 C471.6,311.4 472.9,320.5 474.0,330.0 C475.1,339.5 476.1,349.5 476.9,359.2 C477.7,368.9 478.0,378.7 478.8,388.4 C479.6,398.1 480.8,407.9 481.8,417.6 C482.8,427.3 483.7,437.1 484.7,446.8 C485.7,456.5 486.6,466.3 487.6,476.0 C488.6,485.7 489.5,495.5 490.5,505.2 C491.5,514.9 492.4,524.7 493.4,534.4 C494.4,544.1 495.4,553.9 496.4,563.6 C497.4,573.3 498.2,581.7 499.3,592.8 C500.4,603.9 501.7,617.3 502.8,630.0 C503.9,642.7 505.1,655.9 506.1,668.9 C507.1,681.9 508.0,696.5 509.0,707.9 C510.0,719.3 510.8,727.4 511.9,737.1 C513.0,746.8 514.7,756.6 515.8,766.3 C516.9,776.0 517.7,785.8 518.7,795.5 C519.7,805.2 520.4,814.1 521.7,824.7 C523.0,835.3 525.2,848.6 526.5,859.2 C527.8,869.8 528.4,878.7 529.5,888.4 C530.6,898.1 532.0,907.9 533.3,917.6 C534.6,927.3 535.7,937.1 537.2,946.8 C538.7,956.5 540.5,966.3 542.1,976.0 C543.7,985.7 545.0,995.5 547.0,1005.2 C549.0,1014.9 551.4,1025.6 553.8,1034.4 C556.2,1043.2 559.0,1051.0 561.6,1057.8 C564.2,1064.6 566.5,1070.4 569.4,1075.3 C572.3,1080.2 575.7,1084.4 579.1,1087.0 C582.5,1089.6 586.5,1090.6 589.8,1090.9 C593.0,1091.2 595.9,1090.5 598.6,1088.9 C601.4,1087.3 603.7,1084.3 606.3,1081.1 C608.9,1077.8 611.5,1074.6 614.1,1069.4 C616.7,1064.2 619.6,1057.5 621.9,1050.0 C624.2,1042.5 626.0,1033.8 627.8,1024.7 C629.6,1015.6 631.0,1005.2 632.6,995.5 C634.2,985.8 636.0,976.0 637.5,966.3 C639.0,956.6 640.1,946.2 641.4,937.1 C642.7,928.0 644.0,920.6 645.3,911.8 C646.6,903.0 647.9,893.9 649.2,884.5 C650.5,875.1 652.1,862.7 653.1,855.3 C654.1,847.9 654.5,845.6 655.0,840.0 C655.5,834.4 655.6,826.9 656.3,821.7 C656.9,816.5 657.8,813.0 658.9,808.7 C660.0,804.4 661.5,800.0 662.8,795.7 C664.1,791.4 665.2,786.2 666.7,782.8 C668.2,779.3 670.1,776.6 671.9,775.0 C673.7,773.4 675.1,772.5 677.3,773.0 C679.5,773.5 682.8,775.1 685.2,777.9 C687.7,780.7 689.9,784.4 692.0,789.6 C694.1,794.8 695.8,803.2 697.8,809.1 C699.8,815.0 701.9,816.6 703.9,825.0 C705.9,833.4 707.8,849.3 709.7,859.2 C711.7,869.1 713.7,876.4 715.6,884.5 C717.5,892.6 719.5,899.8 721.4,907.9 C723.3,916.0 725.3,925.1 727.3,933.2 C729.2,941.3 731.2,948.4 733.1,956.5 C735.0,964.6 737.0,974.3 738.9,981.8 C740.8,989.3 742.8,994.8 744.8,1001.3 C746.8,1007.8 748.6,1014.3 750.6,1020.8 C752.6,1027.3 754.2,1034.4 756.5,1040.2 C758.8,1046.0 761.3,1050.6 764.2,1055.8 C767.1,1061.0 770.8,1066.9 774.0,1071.4 C777.2,1076.0 780.1,1080.3 783.7,1083.1 C787.3,1085.8 791.5,1086.9 795.4,1087.9 C799.3,1088.9 803.5,1089.1 807.1,1088.9 C810.7,1088.7 813.9,1087.1 816.8,1086.6 C819.7,1086.1 821.7,1085.6 824.6,1086.0 C827.5,1086.4 831.0,1087.6 834.3,1088.9 C837.5,1090.2 840.5,1092.5 844.1,1093.8 C847.7,1095.1 851.8,1096.0 855.7,1096.7 C859.6,1097.4 863.8,1097.8 867.4,1098.2 C871.0,1098.6 873.9,1099.2 877.1,1099.0 C880.4,1098.8 883.9,1098.4 886.9,1096.7 C889.9,1095.0 892.9,1091.0 895.0,1088.8 C897.1,1086.6 897.9,1085.3 899.3,1083.8 C900.7,1082.2 902.2,1080.7 903.6,1079.5 C905.0,1078.3 906.3,1077.4 907.8,1076.7 C909.3,1076.0 911.3,1075.4 912.8,1075.2 C914.3,1075.0 915.2,1075.0 916.6,1075.3 C918.0,1075.5 919.9,1075.9 921.4,1076.7 C922.9,1077.5 924.2,1078.8 925.7,1079.9 C927.2,1081.0 929.0,1082.4 930.7,1083.5 C932.4,1084.6 934.0,1085.7 935.7,1086.4 C937.4,1087.1 939.2,1087.5 940.7,1087.8 C942.2,1088.1 943.6,1088.3 945.0,1088.1 C946.4,1087.9 947.8,1087.4 949.2,1086.4 C950.6,1085.4 952.2,1083.9 953.5,1082.1 C954.8,1080.3 956.0,1078.0 957.1,1075.7 C958.2,1073.4 959.2,1070.9 960.0,1068.5 C960.8,1066.1 961.1,1065.0 962.1,1061.4 C963.1,1057.8 964.4,1052.0 965.7,1047.0 C967.0,1042.0 968.6,1036.5 970.0,1031.3 C971.4,1026.1 972.9,1020.6 974.3,1015.6 C975.7,1010.6 977.1,1006.5 978.5,1001.3 C979.9,996.1 981.4,990.1 982.8,984.2 C984.2,978.3 985.7,971.9 987.1,965.7 C988.5,959.5 990.0,953.3 991.4,947.1 C992.8,940.9 994.3,934.9 995.7,928.5 C997.1,922.1 998.5,914.8 999.9,908.6 C1001.3,902.4 1003.1,896.2 1004.2,891.4 C1005.3,886.6 1005.8,883.8 1006.4,880.0 C1007.0,876.2 1006.6,874.0 1007.8,868.9 C1009.0,863.8 1011.6,856.0 1013.6,849.5 C1015.6,843.0 1017.9,836.2 1019.5,830.0 C1021.1,823.8 1021.5,817.8 1023.4,812.3 C1025.3,806.8 1028.5,800.6 1031.1,796.7 C1033.7,792.8 1036.5,790.4 1038.9,788.9 C1041.3,787.4 1043.4,787.6 1045.7,787.9 C1048.0,788.2 1049.8,788.4 1052.6,790.8 C1055.4,793.2 1059.1,798.6 1062.3,802.5 C1065.5,806.4 1069.1,809.6 1072.0,814.2 C1074.9,818.8 1077.5,825.4 1079.8,830.0 C1082.1,834.6 1083.8,837.5 1085.7,841.7 C1087.7,845.9 1089.6,851.1 1091.5,855.3 C1093.4,859.5 1095.3,863.1 1097.3,867.0 C1099.2,870.9 1101.2,874.8 1103.2,878.7 C1105.2,882.6 1106.7,886.7 1109.0,890.3 C1111.3,893.9 1114.2,897.2 1116.8,900.1 C1119.4,903.0 1121.7,904.7 1124.6,907.9 C1127.5,911.1 1131.0,915.3 1134.3,919.5 C1137.5,923.7 1141.5,929.2 1144.1,933.2 C1146.7,937.2 1147.5,939.5 1150.0,943.6 C1152.5,947.8 1156.1,953.0 1159.1,958.1 C1162.1,963.2 1165.2,969.0 1168.2,974.5 C1171.2,980.0 1174.3,986.0 1177.3,990.8 C1180.3,995.6 1183.0,999.0 1186.3,1003.5 C1189.6,1008.0 1194.2,1014.6 1197.2,1018.1 C1200.2,1021.6 1201.9,1023.0 1204.0,1024.5 C1206.1,1026.0 1207.5,1028.0 1210.0,1027.2 C1212.5,1026.4 1216.4,1022.9 1219.1,1019.9 C1221.8,1016.9 1224.2,1013.2 1226.3,1009.0 C1228.4,1004.8 1230.0,999.4 1231.8,994.5 C1233.6,989.6 1235.1,984.8 1237.2,979.9 C1239.3,975.0 1241.8,968.6 1244.5,965.4 C1247.2,962.2 1251.0,961.3 1253.6,960.8 C1256.2,960.3 1257.9,962.0 1260.0,962.5 C1262.1,963.0 1263.7,964.3 1266.3,963.6 C1268.9,962.9 1272.7,960.8 1275.4,958.1 C1278.1,955.4 1280.3,951.1 1282.7,947.2 C1285.1,943.3 1287.5,938.7 1289.9,934.5 C1292.3,930.3 1294.9,924.7 1297.2,921.8 C1299.5,918.9 1301.2,917.2 1303.6,917.2 C1306.0,917.2 1309.1,919.2 1311.7,921.8 C1314.3,924.4 1316.9,928.5 1319.0,932.7 C1321.1,936.9 1322.7,941.8 1324.5,947.2 C1326.3,952.7 1328.4,959.4 1329.9,965.4 C1331.4,971.4 1332.3,977.5 1333.5,983.5 C1334.7,989.5 1336.0,996.2 1337.2,1001.7 C1338.4,1007.2 1339.3,1011.8 1340.8,1016.3 C1342.3,1020.8 1344.2,1026.0 1346.3,1029.0 C1348.4,1032.0 1351.1,1034.7 1353.5,1034.4 C1355.9,1034.1 1358.7,1030.8 1360.8,1027.2 C1362.9,1023.6 1364.4,1018.1 1366.2,1012.6 C1368.0,1007.1 1369.9,1000.2 1371.7,994.5 C1373.5,988.8 1375.4,983.2 1377.2,978.1 C1379.0,973.0 1380.2,967.5 1382.6,963.6 C1385.0,959.7 1389.0,955.1 1391.7,954.5 C1394.4,953.9 1396.9,956.6 1399.0,959.9 C1401.1,963.2 1402.6,969.0 1404.4,974.5 C1406.2,980.0 1408.1,987.1 1409.9,992.6 C1411.7,998.1 1413.5,1002.4 1415.3,1007.2 C1417.1,1012.1 1418.7,1017.2 1420.8,1021.7 C1422.9,1026.2 1425.3,1030.8 1428.0,1034.4 C1430.7,1038.0 1433.8,1040.8 1437.1,1043.5 C1440.4,1046.2 1444.9,1049.4 1448.0,1050.8 C1451.1,1052.2 1452.1,1050.7 1455.7,1051.9 C1459.3,1053.1 1465.2,1056.0 1469.4,1057.8 C1473.6,1059.6 1476.8,1061.3 1481.0,1062.6 C1485.2,1063.9 1489.8,1064.7 1494.7,1065.5 C1499.6,1066.3 1505.2,1067.1 1510.2,1067.3 C1515.2,1067.5 1520.0,1067.4 1525.0,1066.5 C1530.0,1065.6 1535.2,1063.9 1540.0,1062.0 C1544.8,1060.1 1549.2,1057.0 1554.0,1055.3 C1558.8,1053.6 1564.4,1051.7 1568.6,1051.9 C1572.8,1052.1 1575.6,1053.9 1579.0,1056.3 C1582.4,1058.7 1585.8,1063.3 1589.0,1066.5 C1592.2,1069.7 1594.8,1072.4 1597.9,1075.3 C1601.0,1078.2 1604.1,1081.2 1607.7,1084.0 C1611.3,1086.8 1615.4,1090.0 1619.3,1091.8 C1623.2,1093.6 1627.8,1094.0 1631.0,1094.7 C1634.2,1095.4 1635.9,1095.7 1638.8,1095.7 C1641.7,1095.7 1644.9,1095.5 1648.5,1094.7 C1652.1,1093.9 1656.0,1092.0 1660.2,1090.9 C1664.4,1089.8 1671.6,1088.5 1673.9,1088.0" fill="none" stroke="#0000FF" stroke-width="6" stroke-linejoin="round" stroke-linecap="butt" shape-rendering="crispEdges"/>
<rect x="1150" y="277.0" width="112" height="6" fill="#00C000"/>
<rect x="1150" y="425.0" width="112" height="6" fill="#FF0000"/>
<rect x="1150" y="563.0" width="112" height="6" fill="#0000FF"/>
<g filter="url(#bin)">
<text x="0" y="0" transform="translate(1325.5,311.7) scale(0.8753,1)" font-family="'Liberation Sans', Arial, Helvetica, sans-serif" font-size="90.9">RA</text>
<text x="0" y="0" transform="translate(1325.3,456.0) scale(0.8956,1)" font-family="'Liberation Sans', Arial, Helvetica, sans-serif" font-size="91.3">RA-SFN</text>
<text x="0" y="0" transform="translate(1324.8,592.7) scale(0.9075,1)" font-family="'Liberation Sans', Arial, Helvetica, sans-serif" font-size="90.9">SFN</text>
<text x="0" y="0" transform="translate(922.6,168.8) scale(0.8614,1)" font-family="'Liberation Sans', Arial, Helvetica, sans-serif" font-size="91.2">1116</text>
<text x="0" y="0" transform="translate(1113.8,168.8) scale(0.9159,1)" font-family="'Liberation Sans', Arial, Helvetica, sans-serif" font-size="91.2">cm</text>
<text x="0" y="0" transform="translate(1233.5,124.8) scale(0.7815,1)" font-family="'Liberation Sans', Arial, Helvetica, sans-serif" font-size="69.4">-1</text>
<text x="0" y="0" transform="translate(522.0,1503.8) scale(0.9524,1)" font-family="'Liberation Sans', Arial, Helvetica, sans-serif" font-size="91.2">Wavenumber</text>
<text x="0" y="0" transform="translate(1055.8,1502.8) scale(0.9027,1)" font-family="'Liberation Sans', Arial, Helvetica, sans-serif" font-size="84.4">(</text>
<text x="0" y="0" transform="translate(1081.4,1504.2) scale(0.9685,1)" font-family="'Liberation Sans', Arial, Helvetica, sans-serif" font-size="91.2">cm</text>
<text x="0" y="0" transform="translate(1189.6,1464.8) scale(0.8048,1)" font-family="'Liberation Sans', Arial, Helvetica, sans-serif" font-size="69.3">-1</text>
<text x="0" y="0" transform="translate(1247.0,1502.8) scale(0.9209,1)" font-family="'Liberation Sans', Arial, Helvetica, sans-serif" font-size="84.4">)</text>
<text x="0" y="0" transform="translate(74.1,1073.7) rotate(-90) scale(0.9580,1)" font-family="'Liberation Sans', Arial, Helvetica, sans-serif" font-size="90.0">Normalized absorbance</text>
</g></svg>
</body></html>
